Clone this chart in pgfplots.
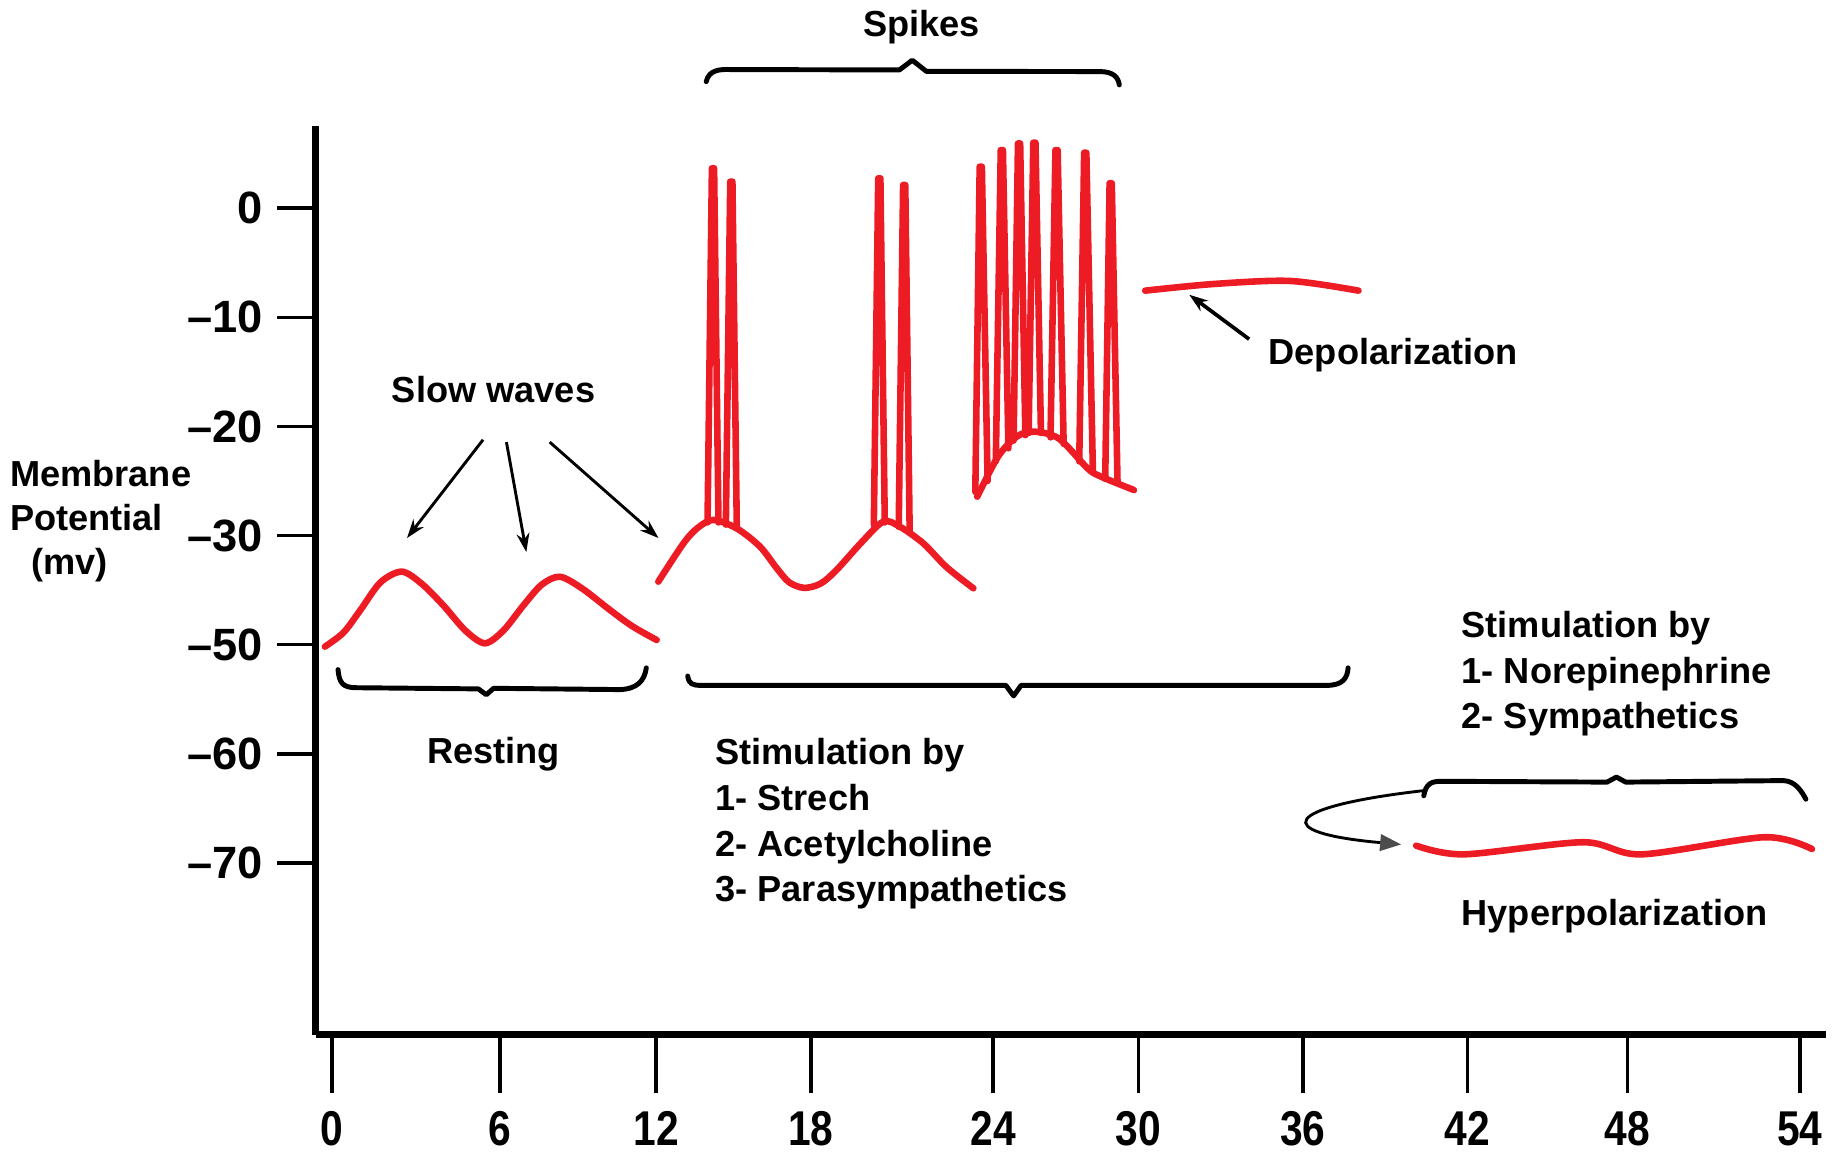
\documentclass[border=0pt]{standalone}
\usepackage{pgfplots}
\pgfplotsset{compat=1.18}
\usepackage{fontspec}
\setmainfont{Liberation Sans}
\usetikzlibrary{arrows.meta}
\definecolor{trace}{RGB}{237,28,36}
\newcommand\lab{\bfseries\fontsize{8.8}{10}\selectfont}

\begin{document}
\begin{tikzpicture}
\path[use as bounding box] (-2.70,-1.072) rectangle (12.98,8.84);
\begin{axis}[
  scale only axis, width=12.9cm, height=7.76cm,
  xmin=-0.556, xmax=54.64, ymin=-75.75, ymax=7.51,
  axis lines=left,
  axis line style={-, line width=1.7pt},
  tick align=outside,
  xtick={0.03,6.16,11.88,17.54,24.2,29.52,35.52,41.54,47.4,53.7},
  xticklabels={0,6,12,18,24,30,36,42,48,54},
  ytick={0,-10,-20,-30,-40,-50,-60},
  yticklabels={0,\textendash10,\textendash20,\textendash30,\textendash50,\textendash60,\textendash70},
  major tick length=0.33cm,
  xtick style={/pgfplots/major tick length=0.5cm, line width=0.9pt, black},
  ytick style={line width=0.9pt, black},
  ticklabel style={font=\bfseries\fontsize{11}{13}\selectfont},
  xticklabel style={xscale=0.9, yscale=1.08, yshift=-0.18cm},
  /pgf/number format/assume math mode=true,
  clip=false,
  every axis plot/.append style={trace, mark=none, line width=1.6pt, line cap=round, line join=round},
]
% resting slow waves
\addplot[smooth] coordinates {(-0.23,-40.19) (0.45,-38.9) (1.05,-36.9) (1.8,-34.3) (2.58,-33.31) (3.3,-34.4) (4.10,-36.4) (4.9,-38.7) (5.62,-39.88) (6.3,-38.7) (7.03,-36.4) (7.7,-34.5) (8.37,-33.78) (9.2,-34.9) (10.19,-36.82) (11.0,-38.3) (11.90,-39.58)};
% slow waves with spikes
\addplot[smooth] coordinates {(11.96,-34.23) (12.88,-30.72) (13.4,-29.3) (13.97,-28.57) (14.83,-29.35) (15.68,-31.02) (16.29,-33.0) (16.75,-34.3) (17.3,-34.8) (17.9,-34.4) (18.48,-33.15) (19.4,-30.6) (20.19,-28.72) (20.8,-29.2) (21.65,-30.72) (22.5,-32.9) (23.48,-34.84)};
\addplot[sharp plot, unbounded coords=jump] coordinates {
 (13.76,-28.8) (13.92,3.67) (14.0,3.67) (14.16,-28.8) (0,nan)
 (14.43,-29.0) (14.59,2.45) (14.67,2.45) (14.83,-29.3) (0,nan)
 (19.84,-29.0) (20.0,2.75) (20.08,2.75) (20.24,-28.8) (0,nan)
 (20.75,-29.2) (20.91,2.14) (20.99,2.14) (21.15,-29.6)};
% burst
\addplot[smooth] coordinates {(23.62,-26.44) (24.38,-22.77) (25.07,-20.92) (25.71,-20.48) (26.6,-21.1) (27.6,-23.7) (28.02,-24.46) (29.35,-25.83)};
\addplot[sharp plot, unbounded coords=jump] coordinates {
 (23.55,-26.0) (23.71,3.82) (23.79,3.82) (24.0,-25.0) (0,nan)
 (24.3,-23.2) (24.48,5.34) (24.56,5.34) (24.76,-22.0) (0,nan)
 (24.95,-21.3) (25.11,5.95) (25.19,5.95) (25.38,-20.8) (0,nan)
 (25.5,-20.6) (25.67,6.02) (25.75,6.02) (25.95,-20.6) (0,nan)
 (26.3,-21.0) (26.48,5.34) (26.56,5.34) (26.78,-21.6) (0,nan)
 (27.35,-23.2) (27.53,5.10) (27.61,5.10) (27.85,-24.2) (0,nan)
 (28.3,-24.8) (28.46,2.30) (28.54,2.30) (28.75,-25.2)};
% depolarization
\addplot[smooth] coordinates {(29.76,-7.55) (32.26,-6.94) (35.06,-6.66) (37.56,-7.55)};
% hyperpolarization
\addplot[smooth] coordinates {(39.67,-58.43) (41.41,-59.23) (45.78,-58.12) (47.90,-59.23) (52.40,-57.66) (54.14,-58.74)};
\end{axis}

\begin{scope}[x=0.01cm, y=-0.01cm, shift={(-2.70cm,8.84cm)}]
% braces
\begin{scope}[line width=1.2pt, line cap=round, line join=round]
\draw (289,572.5) .. controls (290,584) and (293,588) .. (305,588) -- (409,589) -- (415.8,594) -- (422,588.5) -- (530,589.6) .. controls (545,589) and (551,582) .. (552.6,571);
\draw (588,578) .. controls (589,585) and (592,586) .. (600,586) -- (860,586) -- (866.6,595) -- (873,586) -- (1134,586) .. controls (1148,586) and (1152,580) .. (1152.6,571);
\draw (603.8,69.8) .. controls (606,60) and (615,59) .. (625,59.5) -- (769,59.8) -- (780,51.5) -- (792,61) -- (941,61.2) .. controls (952,61.5) and (956,66) .. (957,72.6);
\draw (1217.3,680.4) .. controls (1219,670) and (1224,668) .. (1232,668) -- (1374,668.7) -- (1382,664.4) -- (1390,668.7) -- (1525,667.4) .. controls (1535,668) and (1540,676) .. (1544,683.3);
\end{scope}
% arrows
\begin{scope}[line width=0.7pt, -{Stealth[length=0.16cm, width=0.11cm]}]
\draw (413,376) -- (348,460);
\draw (433,378) -- (450,472);
\draw (470,378) -- (563,460);
\draw[line width=0.9pt] (1068,290) -- (1016.8,252);
\end{scope}
\draw[line width=0.7pt, -{Triangle[length=0.18cm, width=0.14cm, color=black!70]}] (1217,676) .. controls (1095,690) and (1085,712) .. (1198,722);
% texts
\begin{scope}[every node/.style={inner sep=0pt, font=\lab}]
\node[anchor=base] at (788,31) {Spikes};
\node[anchor=base] at (422,344) {Slow waves};
\node[anchor=base] at (422,653) {Resting};
\node[anchor=base west] at (8,416) {Membrane};
\node[anchor=base west] at (8,454) {Potential};
\node[anchor=base west] at (26,491) {(mv)};
\node[anchor=base west] at (1084,312) {Depolarization};
\node[anchor=base west] at (611,654) {Stimulation by};
\node[anchor=base west] at (611,693) {1- Strech};
\node[anchor=base west] at (611,732) {2- Acetylcholine};
\node[anchor=base west] at (611,771) {3- Parasympathetics};
\node[anchor=base west] at (1249,545) {Stimulation by};
\node[anchor=base west] at (1249,584) {1- Norepinephrine};
\node[anchor=base west] at (1249,623) {2- Sympathetics};
\node[anchor=base west] at (1249,791) {Hyperpolarization};
\end{scope}
\end{scope}
\end{tikzpicture}
\end{document}
